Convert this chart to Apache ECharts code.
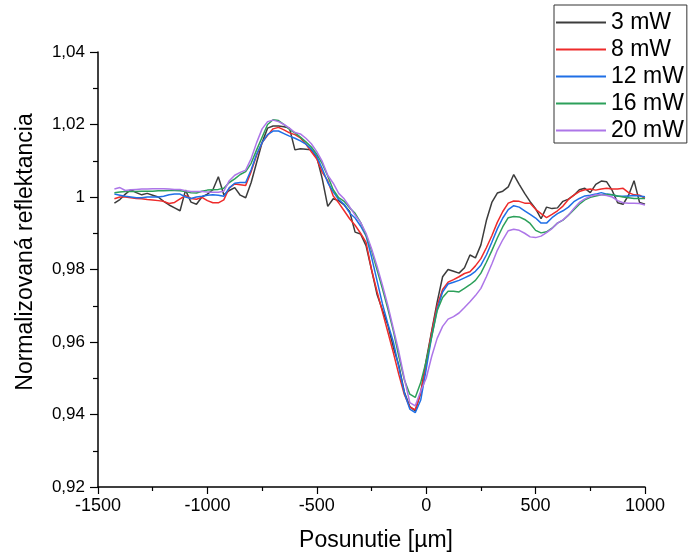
<!DOCTYPE html>
<html>
<head>
<meta charset="utf-8">
<script src="https://cdn.jsdelivr.net/npm/echarts@6/dist/echarts.min.js"></script>
<style>
html,body{margin:0;padding:0;background:#fff;}
#chart{width:689px;height:558px;}
</style>
</head>
<body>
<div id="chart"></div>
<script>
// x positions (µm)
const xs = [];
for (let x = -1425; x <= 1000; x += 25) xs.push(x);

const seriesNames = ['3 mW', '8 mW', '12 mW', '16 mW', '20 mW'];
const xTitle = 'Posunutie [µm]';
const yTitle = 'Normalizovaná reflektancia';

const mw3 = [
0.9983,0.9993,1.0008,1.0020,1.0012,1.0006,1.0010,1.0005,1.0000,0.9988,
0.9978,0.9970,0.9962,1.0019,0.9986,0.9980,1.0000,1.0008,1.0020,1.0056,
1.0006,1.0018,1.0026,1.0005,0.9998,1.0040,1.0095,1.0150,1.0190,1.0196,
1.0196,1.0194,1.0190,1.0130,1.0133,1.0132,1.0130,1.0110,1.0050,0.9974,
0.9995,0.9990,0.9978,0.9960,0.9903,0.9898,0.9866,0.9800,0.9732,0.9688,
0.9646,0.9585,0.9535,0.9462,0.9422,0.9410,0.9460,0.9550,0.9630,0.9710,
0.9780,0.9800,0.9795,0.9790,0.9805,0.9840,0.9832,0.9868,0.9935,0.9985,
1.0011,1.0016,1.0028,1.0062,1.0035,1.0010,0.9987,0.9968,0.9940,0.9972,
0.9968,0.9970,0.9988,0.9994,1.0005,1.0020,1.0024,1.0012,1.0035,1.0044,
1.0042,1.0018,0.9984,0.9980,1.0005,1.0045,0.9985,0.9980
];
const mw8 = [
0.9995,1.0000,1.0000,0.9998,0.9996,0.9995,0.9993,0.9992,0.9990,0.9988,
0.9982,0.9985,0.9995,1.0004,0.9996,0.9994,0.9999,0.9990,0.9984,0.9984,
0.9992,1.0025,1.0036,1.0034,1.0032,1.0070,1.0115,1.0150,1.0170,1.0188,
1.0192,1.0185,1.0177,1.0172,1.0163,1.0146,1.0125,1.0105,1.0068,1.0045,
1.0003,0.9984,0.9962,0.9940,0.9922,0.9900,0.9875,0.9800,0.9740,0.9683,
0.9627,0.9570,0.9510,0.9455,0.9420,0.9413,0.9460,0.9540,0.9628,0.9700,
0.9745,0.9765,0.9772,0.9780,0.9789,0.9794,0.9810,0.9830,0.9860,0.9893,
0.9930,0.9960,0.9983,0.9989,0.9988,0.9983,0.9983,0.9966,0.9954,0.9943,
0.9952,0.9962,0.9975,0.9993,1.0005,1.0015,1.0020,1.0022,1.0019,1.0022,
1.0024,1.0022,1.0022,1.0024,1.0012,1.0006,1.0005,0.9996
];
const mw12 = [
1.0008,1.0005,1.0002,1.0000,0.9998,0.9998,1.0000,1.0000,1.0000,1.0002,
1.0006,1.0008,1.0008,1.0000,0.9996,1.0000,1.0002,1.0005,1.0006,1.0005,
1.0002,1.0025,1.0038,1.0040,1.0040,1.0075,1.0118,1.0150,1.0172,1.0182,
1.0182,1.0175,1.0168,1.0162,1.0155,1.0146,1.0132,1.0112,1.0078,1.0040,
1.0014,0.9993,0.9980,0.9956,0.9942,0.9920,0.9893,0.9835,0.9770,0.9705,
0.9650,0.9600,0.9530,0.9460,0.9415,0.9405,0.9440,0.9525,0.9615,0.9690,
0.9738,0.9760,0.9765,0.9770,0.9777,0.9784,0.9795,0.9812,0.9840,0.9875,
0.9912,0.9942,0.9965,0.9976,0.9972,0.9962,0.9952,0.9942,0.9928,0.9928,
0.9943,0.9954,0.9962,0.9972,0.9987,0.9996,1.0003,1.0005,1.0008,1.0012,
1.0008,1.0006,1.0002,1.0002,1.0003,1.0004,1.0003,1.0001
];
const mw16 = [
1.0012,1.0014,1.0015,1.0015,1.0015,1.0016,1.0016,1.0016,1.0017,1.0017,
1.0018,1.0018,1.0017,1.0015,1.0012,1.0011,1.0016,1.0019,1.0020,1.0021,
1.0024,1.0040,1.0050,1.0062,1.0070,1.0093,1.0130,1.0165,1.0200,1.0213,
1.0211,1.0200,1.0186,1.0177,1.0165,1.0152,1.0138,1.0118,1.0092,1.0058,
1.0020,0.9998,0.9988,0.9970,0.9955,0.9930,0.9895,0.9853,0.9800,0.9747,
0.9691,0.9630,0.9560,0.9496,0.9456,0.9447,0.9488,0.9547,0.9614,0.9686,
0.9723,0.9740,0.9740,0.9738,0.9748,0.9758,0.9770,0.9790,0.9820,0.9852,
0.9887,0.9918,0.9943,0.9946,0.9945,0.9938,0.9927,0.9908,0.9901,0.9904,
0.9914,0.9928,0.9936,0.9950,0.9965,0.9980,0.9992,0.9999,1.0003,1.0006,
1.0007,1.0006,1.0003,1.0000,0.9998,0.9996,0.9996,0.9996
];
const mw20 = [
1.0022,1.0026,1.0018,1.0020,1.0021,1.0022,1.0022,1.0023,1.0023,1.0023,
1.0022,1.0021,1.0021,1.0017,1.0015,1.0015,1.0015,1.0014,1.0013,1.0013,
1.0016,1.0045,1.0060,1.0068,1.0074,1.0106,1.0150,1.0188,1.0208,1.0212,
1.0208,1.0200,1.0190,1.0178,1.0174,1.0162,1.0147,1.0125,1.0098,1.0060,
1.0038,1.0010,0.9995,0.9973,0.9950,0.9930,0.9900,0.9858,0.9810,0.9757,
0.9700,0.9637,0.9573,0.9500,0.9433,0.9424,0.9465,0.9500,0.9560,0.9610,
0.9643,0.9663,0.9670,0.9680,0.9695,0.9711,0.9728,0.9748,0.9780,0.9815,
0.9853,0.9882,0.9907,0.9911,0.9908,0.9900,0.9890,0.9888,0.9892,0.9902,
0.9913,0.9928,0.9937,0.9950,0.9968,0.9985,0.9995,1.0002,1.0006,1.0006,
1.0004,1.0000,0.9990,0.9984,0.9983,0.9983,0.9982,0.9978
];

const allValues = [mw3, mw8, mw12, mw16, mw20];
const colors = ['#3c3c3c', '#ee2b2b', '#1f6fe6', '#2ca05a', '#ad76e8'];

const FONT = 'Liberation Sans, Arial, sans-serif';

const chart = echarts.init(document.getElementById('chart'), null, {renderer: 'canvas'});

const series = seriesNames.map((name, i) => ({
  name: name,
  type: 'line',
  data: xs.map((x, j) => [x, allValues[i][j]]),
  showSymbol: false,
  symbol: 'none',
  lineStyle: {color: colors[i], width: 1.5},
  itemStyle: {color: colors[i]},
  z: 2 + i,
  animation: false
}));

chart.setOption({
  animation: false,
  backgroundColor: '#fff',
  color: colors,
  grid: {left: 98, right: 44, top: 52, bottom: 71, containLabel: false},
  graphic: [
    {
      type: 'text', x: 376, y: 541,
      style: {text: xTitle, font: '23px ' + FONT, fill: '#000', textAlign: 'center', textVerticalAlign: 'middle'}
    },
    {
      type: 'text', x: 26, y: 252, rotation: Math.PI / 2,
      style: {text: yTitle, font: '23px ' + FONT, fill: '#000', textAlign: 'center', textVerticalAlign: 'middle'}
    }
  ],
  legend: {
    orient: 'vertical',
    left: 554,
    top: 5,
    data: seriesNames,
    icon: 'rect',
    itemWidth: 50,
    itemHeight: 2,
    itemGap: 4,
    padding: [6, 3, 1, 2],
    borderColor: '#333',
    borderWidth: 1,
    textStyle: {fontFamily: FONT, fontSize: 23, color: '#000', lineHeight: 23}
  },
  xAxis: {
    type: 'value',
    min: -1500,
    max: 1000,
    interval: 500,
    axisLine: {show: true, onZero: false, lineStyle: {color: '#000', width: 1.5}},
    axisTick: {show: true, length: 7, lineStyle: {color: '#000', width: 1.2}},
    minorTick: {show: true, splitNumber: 2, length: 4, lineStyle: {color: '#000', width: 1.2}},
    axisLabel: {fontFamily: FONT, fontSize: 18, color: '#000', margin: 10, formatter: v => String(v)},
    splitLine: {show: false}
  },
  yAxis: {
    type: 'value',
    min: 0.92,
    max: 1.04,
    interval: 0.02,
    axisLine: {show: true, onZero: false, lineStyle: {color: '#000', width: 1.5}},
    axisTick: {show: true, length: 8, lineStyle: {color: '#000', width: 1.2}},
    minorTick: {show: true, splitNumber: 2, length: 5, lineStyle: {color: '#000', width: 1.2}},
    axisLabel: {
      fontFamily: FONT, fontSize: 17, color: '#000', margin: 13,
      formatter: v => String(+v.toFixed(2)).replace('.', ',')
    },
    splitLine: {show: false}
  },
  series: series
});
</script>
</body>
</html>
